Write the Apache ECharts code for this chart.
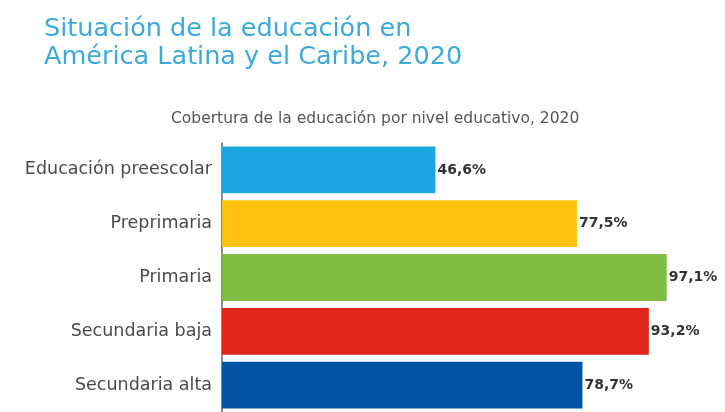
<!DOCTYPE html>
<html><head><meta charset="utf-8">
<script src="https://cdn.jsdelivr.net/npm/echarts@6/dist/echarts.min.js"></script>
<style>html,body{margin:0;padding:0;background:#fff}#c{width:725px;height:412px}</style>
</head><body><div id="c"></div>
<script>
const categories = ["Educación preescolar","Preprimaria","Primaria","Secundaria baja","Secundaria alta"];
const values = [46.6, 77.5, 97.1, 93.2, 78.7];
const colors = ["#1ca6e1","#fdc10f","#7dbd41","#e0251b","#0255a5"];

const chart = echarts.init(document.getElementById('c'));
chart.setOption({
  animation:false,
  title:[
    {text:"Situación de la educación en\nAmérica Latina y el Caribe, 2020", left:39, top:10,
     textStyle:{fontFamily:"DejaVu Sans", fontSize:25.5, fontWeight:'normal', color:"#3aaadb", lineHeight:28}},
    {text:"Cobertura de la educación por nivel educativo, 2020", left:166, top:106,
     textStyle:{fontFamily:"DejaVu Sans", fontSize:15.5, fontWeight:'normal', color:"#555"}}
  ],
  grid:{left:222, top:143, width:458, bottom:-2},
  xAxis:{type:'value', min:0, max:100, show:false},
  yAxis:{type:'category', data:categories, inverse:true,
    axisLine:{show:true, lineStyle:{color:"#666", width:1.5}}, axisTick:{show:false},
    axisLabel:{fontFamily:"DejaVu Sans", fontSize:17.5, color:"#4a4a4a", margin:10}},
  series:[{type:'bar', barCategoryGap:'13%',
    data: values.map((v,i)=>({value:v, itemStyle:{color:colors[i]}})),
    label:{show:true, position:'right', distance:2, fontFamily:"DejaVu Sans", fontSize:14, fontWeight:'bold', color:"#333",
      formatter:p=>p.value.toFixed(1).replace('.',',')+'%'}
  }]
});
</script></body></html>
